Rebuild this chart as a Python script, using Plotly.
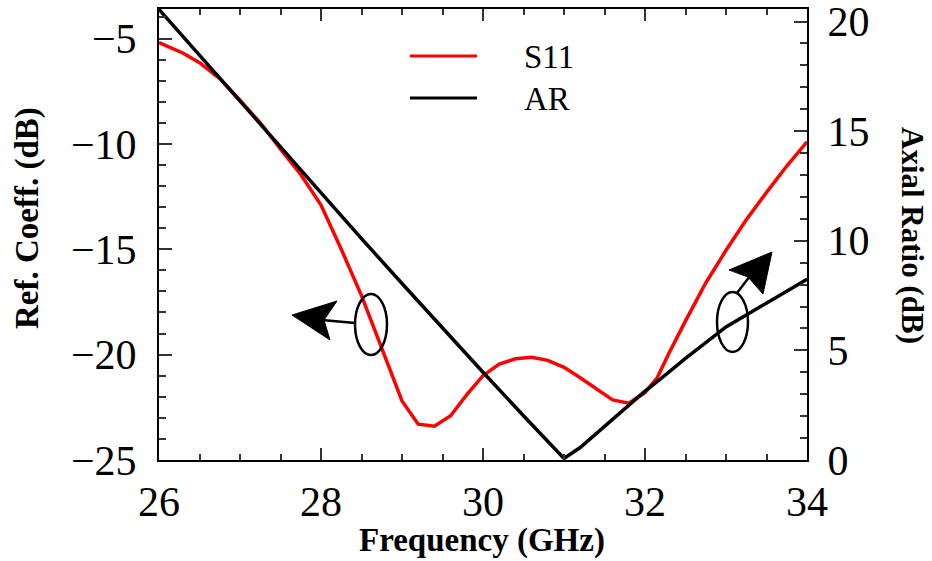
import plotly.graph_objects as go

# ---- data ----
freq_s11 = [26.0, 26.3, 26.5, 26.75, 27.0, 27.25, 27.5, 27.75, 28.0, 28.25, 28.5, 28.75,
            29.0, 29.2, 29.4, 29.6, 29.8, 30.0, 30.2, 30.4, 30.6, 30.8, 31.0, 31.2,
            31.4, 31.6, 31.8, 32.0, 32.15, 32.3, 32.5, 32.75, 33.0, 33.25, 33.5, 33.75, 34.0]
s11_db = [-5.19, -5.7, -6.15, -6.9, -7.93, -9.0, -10.25, -11.45, -12.9, -15.0, -17.2, -19.7,
          -22.2, -23.3, -23.4, -22.9, -21.9, -21.0, -20.45, -20.2, -20.13, -20.27, -20.6, -21.1,
          -21.65, -22.15, -22.3, -21.8, -21.1, -19.9, -18.4, -16.6, -15.05, -13.6, -12.3, -11.05, -9.9]

freq_ar = [26.0, 27.0, 28.0, 28.5, 29.0, 29.5, 30.0, 30.5, 31.0,
           31.2, 31.5, 32.0, 32.2, 32.5, 33.0, 33.25, 33.5, 33.75, 34.0]
ar_db = [20.55, 16.35, 12.2, 10.1, 8.05, 6.02, 4.0, 2.02, 0.07,
         0.57, 1.53, 3.14, 3.72, 4.63, 6.07, 6.6, 7.13, 7.7, 8.24]

x_tickvals = [26, 28, 30, 32, 34]
y1_tickvals = [-25, -20, -15, -10, -5]
y2_tickvals = [0, 5, 10, 15, 20]

FONT = "Liberation Serif"

fig = go.Figure()
fig.add_trace(go.Scatter(x=freq_s11, y=s11_db, mode="lines", name="S11",
                         line=dict(color="#ff0000", width=3.5), yaxis="y"))
fig.add_trace(go.Scatter(x=freq_ar, y=ar_db, mode="lines", name="AR",
                         line=dict(color="#000000", width=3.5), yaxis="y2"))

W, H = 932, 561
L, R, T, B = 159, 807, 9, 460


def px(xp):
    return 26 + (xp - L) / (R - L) * 8


def py(yp):
    return -25 + (B - yp) / (B - T) * (25 - 3.6)


shapes = []
# ellipses (in left-axis data coords)
shapes.append(dict(type="circle", xref="x", yref="y", x0=px(355), x1=px(387), y0=py(355), y1=py(294),
                   line=dict(color="black", width=2.5)))
shapes.append(dict(type="circle", xref="x", yref="y", x0=px(717), x1=px(748), y0=py(352), y1=py(292),
                   line=dict(color="black", width=2.5)))
# arrow shafts
shapes.append(dict(type="line", xref="x", yref="y", x0=px(355), y0=py(323), x1=px(322), y1=py(320),
                   line=dict(color="black", width=2.5)))
shapes.append(dict(type="line", xref="x", yref="y", x0=px(737), y0=py(293), x1=px(750), y1=py(276),
                   line=dict(color="black", width=2.5)))


def poly(points):
    return "M " + " L ".join(f"{px(a)},{py(b)}" for a, b in points) + " Z"


shapes.append(dict(type="path", xref="x", yref="y",
                   path=poly([(292, 315), (337, 301), (324, 320), (330, 340)]),
                   fillcolor="black", line=dict(color="black", width=1)))
shapes.append(dict(type="path", xref="x", yref="y",
                   path=poly([(772, 252), (729, 270), (748, 277), (763, 294)]),
                   fillcolor="black", line=dict(color="black", width=1)))


def pxp(xp):
    return (xp - L) / (R - L)


def pyp(yp):
    return (B - yp) / (B - T)


# legend drawn by hand (long line samples as in the reference)
shapes.append(dict(type="line", xref="paper", yref="paper", x0=pxp(410), x1=pxp(477), y0=pyp(56), y1=pyp(56),
                   line=dict(color="#ff0000", width=3)))
shapes.append(dict(type="line", xref="paper", yref="paper", x0=pxp(410), x1=pxp(477), y0=pyp(98), y1=pyp(98),
                   line=dict(color="black", width=3)))

annotations = [
    dict(text="S11", xref="paper", yref="paper", x=pxp(522), y=pyp(57), xanchor="left", yanchor="middle",
         showarrow=False, font=dict(family=FONT, size=33, color="black")),
    dict(text="AR", xref="paper", yref="paper", x=pxp(522), y=pyp(99), xanchor="left", yanchor="middle",
         showarrow=False, font=dict(family=FONT, size=33, color="black")),
    dict(text="<b>Frequency (GHz)</b>", xref="paper", yref="paper", x=pxp(482), y=pyp(540),
         xanchor="center", yanchor="middle", showarrow=False, font=dict(family=FONT, size=33, color="black")),
    dict(text="<b>Ref. Coeff. (dB)</b>", xref="paper", yref="paper", x=pxp(28), y=pyp(218),
         xanchor="center", yanchor="middle", textangle=-90, showarrow=False,
         font=dict(family=FONT, size=33, color="black")),
    dict(text="<b>Axial Ratio (dB)</b>", xref="paper", yref="paper", x=pxp(913), y=pyp(235),
         xanchor="center", yanchor="middle", textangle=90, showarrow=False,
         font=dict(family=FONT, size=31, color="black")),
]

tickfont = dict(family=FONT, size=42, color="black")

common = dict(showline=True, linecolor="black", linewidth=2, showgrid=False, zeroline=False,
              tickfont=tickfont, automargin=False, tickcolor="#333", tickwidth=1.5, ticks="inside",
              ticklabeloverflow="allow")

fig.update_layout(
    width=W, height=H,
    margin=dict(l=L, r=W - R, t=T, b=H - B, pad=0, autoexpand=False),
    paper_bgcolor="white", plot_bgcolor="white",
    showlegend=False,
    shapes=shapes, annotations=annotations,
    xaxis=dict(range=[26, 34], tickvals=x_tickvals, ticklen=12, mirror="ticks", ticklabelstandoff=4,
               minor=dict(dtick=0.5, ticks="inside", ticklen=6, tickwidth=1.5, tickcolor="#333", showgrid=False),
               **common),
    yaxis=dict(range=[-25, -3.6], tickvals=y1_tickvals, ticklen=13, ticklabelstandoff=12,
               minor=dict(dtick=1, ticks="inside", ticklen=7, tickwidth=1.5, tickcolor="#333", showgrid=False),
               **common),
    yaxis2=dict(range=[0, 20.57], tickvals=y2_tickvals, overlaying="y", side="right",
                ticklen=13, ticklabelstandoff=10,
                minor=dict(dtick=1, ticks="inside", ticklen=7, tickwidth=1.5, tickcolor="#333", showgrid=False),
                **common),
)

fig.write_html("out.html", config={"displayModeBar": False},
               post_script="document.body.style.margin='0';document.body.style.overflow='hidden';")
